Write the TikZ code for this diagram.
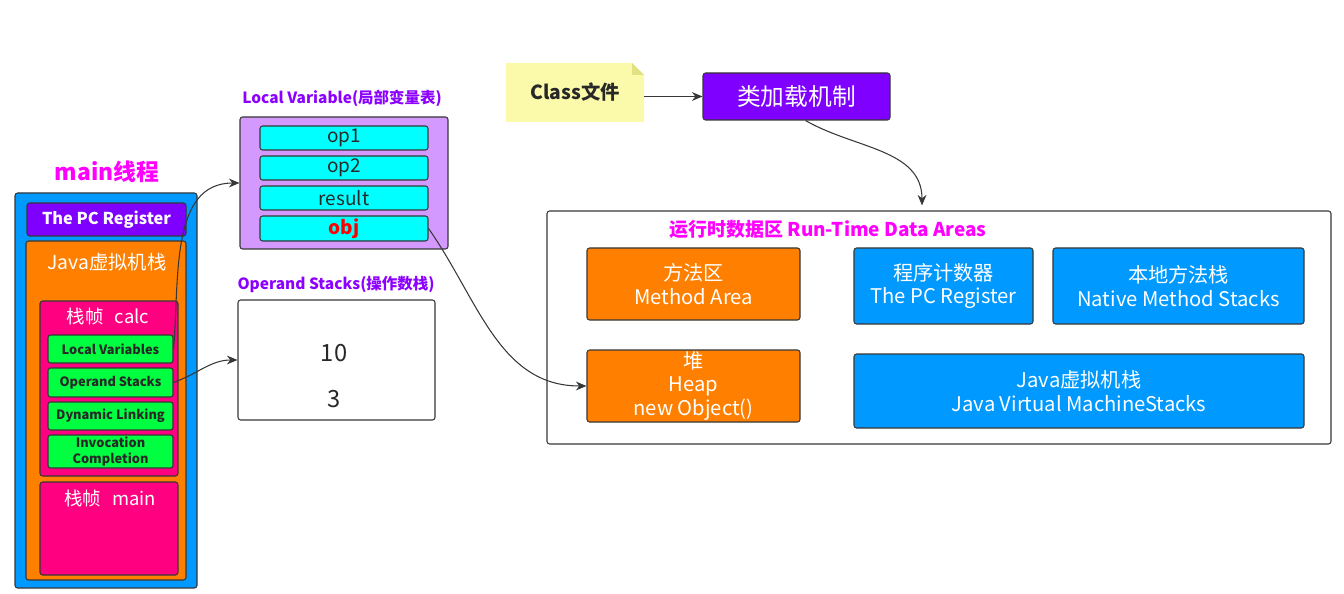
\documentclass[tikz,border=0pt]{standalone}
\usepackage{fontspec}
\setmainfont{Noto Sans CJK SC}
\usetikzlibrary{arrows.meta, positioning}

\definecolor{jvmblue}{RGB}{0,153,255}
\definecolor{jvmorange}{RGB}{255,128,0}
\definecolor{jvmpurple}{RGB}{128,0,255}
\definecolor{jvmpink}{RGB}{255,0,128}
\definecolor{jvmgreen}{RGB}{0,255,64}
\definecolor{lvpurple}{RGB}{212,153,255}
\definecolor{jvmcyan}{RGB}{0,255,255}
\definecolor{notefill}{RGB}{250,250,170}
\definecolor{notefold}{RGB}{225,225,130}
\definecolor{titlepurple}{RGB}{140,0,255}
\definecolor{titlemagenta}{RGB}{255,0,255}
\definecolor{edge}{RGB}{55,55,55}
\definecolor{dtext}{RGB}{40,40,40}

\tikzset{
    size/.style 2 args={minimum width=#1*0.02cm, minimum height=#2*0.02cm},
    box/.style={draw=edge, line width=0.6pt, rounded corners=1.5pt, inner sep=0pt, align=center},
    wtext/.style={text=white},
    greenbox/.style={box, fill=jvmgreen, text=dtext, size={125}{28}, font=\bfseries\fontsize{7.3}{8.6}\selectfont},
    cyanbox/.style={box, fill=jvmcyan, text=dtext, size={168}{24}, font=\fontsize{10.8}{12}\selectfont},
    areabox/.style={box, wtext, font=\fontsize{11.5}{13.6}\selectfont},
    title/.style={font=\bfseries\fontsize{8.8}{10}\selectfont, text=titlepurple},
    flow/.style={draw=edge, line width=0.6pt, -{Stealth[length=6pt, width=5pt]}}
}

\begin{document}
\begin{tikzpicture}[x=0.02cm, y=-0.02cm]
    \useasboundingbox (0,0) rectangle (1344,594);

    % main thread
    \node[font=\bfseries\fontsize{13}{15}\selectfont, text=titlemagenta] (mainth) at (107,172) {main线程};
    \node[box, fill=jvmblue, size={182}{395}] (thread) at (106,390.5) {};
    \node[box, fill=jvmpurple, wtext, size={159}{33}, font=\bfseries\fontsize{9.3}{11}\selectfont] (pcreg) at (106.5,219.5) {The PC Register};
    \node[box, fill=jvmorange, size={160}{339}] (vmstack) at (106,410.5) {};
    \node[wtext, font=\fontsize{11}{13}\selectfont] (vmstacklbl) at (107,262) {Java虚拟机栈};

    % frame calc
    \node[box, fill=jvmpink, size={138}{175}] (calc) at (109,388.5) {};
    \node[wtext, font=\fontsize{10.5}{12}\selectfont] (calclbl) at (108,317) {栈帧\hspace{0.6em}calc};
    \node[greenbox] (lvars) at (110.5,349) {Local Variables};
    \node[greenbox, size={125}{29}] (ostacks) at (110.5,382.5) {Operand Stacks};
    \node[greenbox] (dynlink) at (110.5,416) {Dynamic Linking};
    \node[greenbox, size={125}{33}] (invoc) at (110.5,451.5) {Invocation\\Completion};

    % frame main
    \node[box, fill=jvmpink, size={138}{93}] (mainfr) at (109,528.5) {};
    \node[wtext, font=\fontsize{10.5}{12}\selectfont] (mainlbl) at (110,499) {栈帧\hspace{0.6em}main};

    % local variable table
    \node[title] (lvtitle) at (342,98) {Local Variable(局部变量表)};
    \node[box, fill=lvpurple, size={208}{132}] (lvtable) at (344,183) {};
    \node[cyanbox] (op1) at (344,138) {op1};
    \node[cyanbox] (op2) at (344,168) {op2};
    \node[cyanbox] (result) at (344,198) {result};
    \node[cyanbox, size={168}{25}, text=red, font=\bfseries\fontsize{10.8}{12}\selectfont] (obj) at (344,228.5) {obj};

    % operand stack
    \node[title] (ostitle) at (336,284) {Operand Stacks(操作数栈)};
    \node[box, fill=white, size={197}{120}] (opstack) at (336.5,360) {};
    \node[text=dtext, font=\fontsize{13.5}{15}\selectfont] (val10) at (334,353) {10};
    \node[text=dtext, font=\fontsize{13.5}{15}\selectfont] (val3) at (334,399) {3};

    % class loading
    \fill[notefill] (506,63) -- (632,63) -- (644,75) -- (644,122) -- (506,122) -- cycle;
    \fill[notefold] (632,63) -- (644,75) -- (632,75) -- cycle;
    \node[text=dtext, size={138}{59}, inner sep=0pt, font=\bfseries\fontsize{11}{13}\selectfont] (cls) at (575,92.5) {Class文件};
    \node[box, fill=jvmpurple, wtext, size={187}{47}, font=\fontsize{13.5}{15}\selectfont] (loader) at (796.5,96.5) {类加载机制};

    % run-time data areas
    \node[box, fill=white, size={784}{233}] (rtda) at (939,327.5) {};
    \node[font=\bfseries\fontsize{10.8}{12}\selectfont, text=titlemagenta] (rtdatitle) at (828,229) {运行时数据区 Run-Time Data Areas};
    \node[areabox, fill=jvmorange, size={213}{72}] (method) at (693.5,284) {方法区\\Method Area};
    \node[areabox, fill=jvmblue, size={179}{76}] (pcarea) at (943.5,286) {程序计数器\\The PC Register};
    \node[areabox, fill=jvmblue, size={251}{76}] (native) at (1178.5,286) {本地方法栈\\Native Method Stacks};
    \node[areabox, fill=jvmorange, size={213}{72}] (heap) at (693.5,386) {堆\\Heap\\new Object()};
    \node[areabox, fill=jvmblue, size={450}{74}] (jvms) at (1079,391) {Java虚拟机栈\\Java Virtual MachineStacks};

    % connectors
    \draw[flow] (lvars.east) to[out=85, in=180] (lvtable.west);
    \draw[flow] (ostacks.east) to[out=20, in=180] (opstack.west);
    \draw[flow] (obj.east) to[out=-55, in=180] (heap.west);
    \draw[flow] (cls.east |- loader.west) -- (loader.west);
    \draw[flow] ([xshift=0.18cm]loader.south) to[out=-30, in=90] ([xshift=-0.34cm, yshift=0.1cm]rtda.north);
\end{tikzpicture}
\end{document}
